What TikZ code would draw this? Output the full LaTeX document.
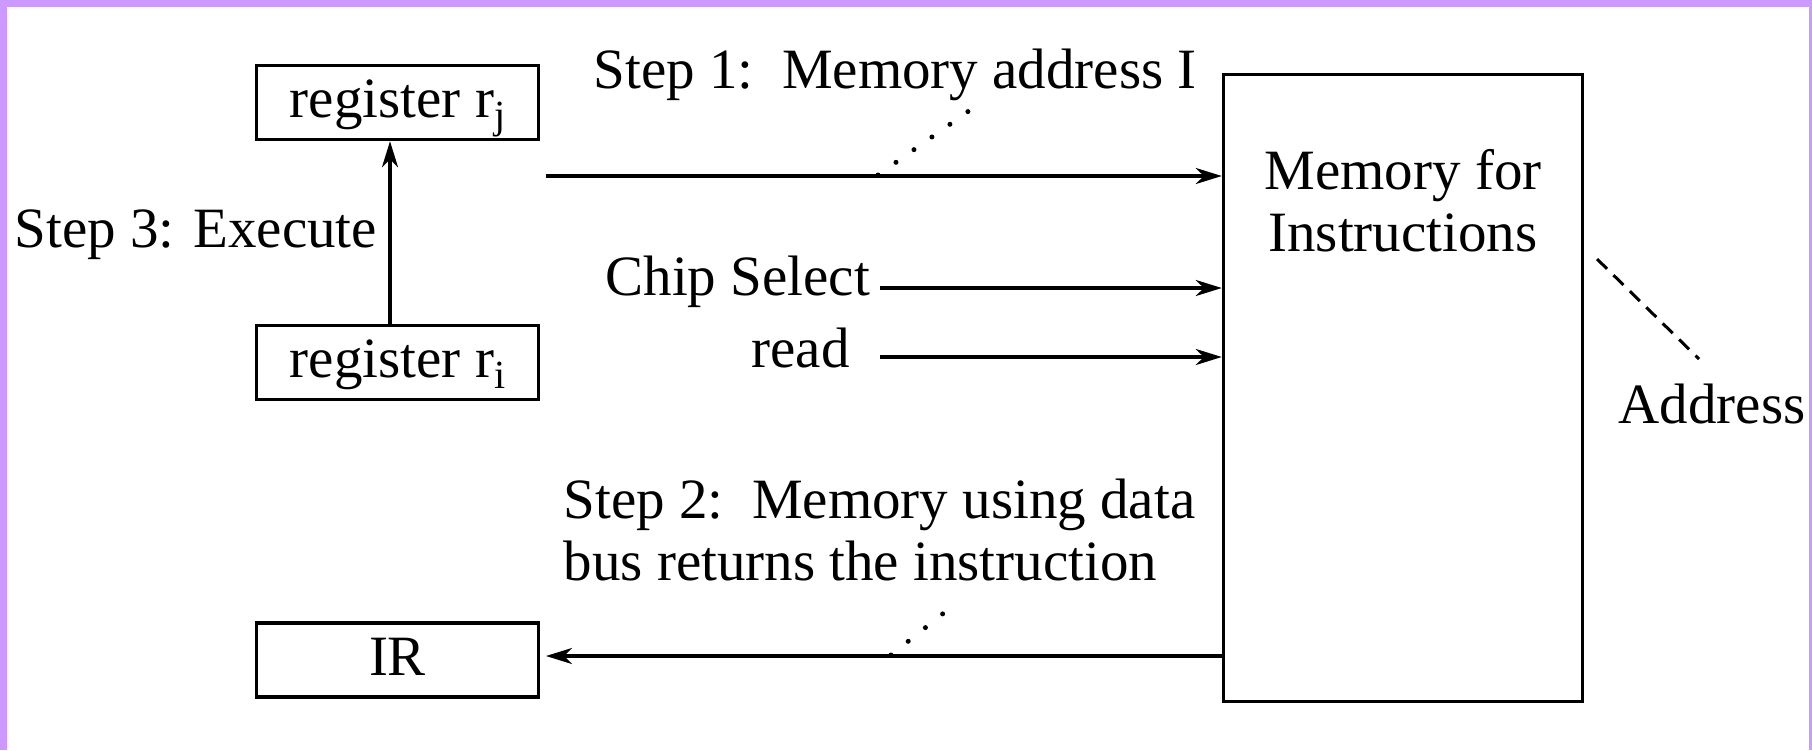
\documentclass[tikz,border=0pt]{standalone}
\usepackage{fontspec}
\setmainfont{Liberation Serif}
\usetikzlibrary{arrows.meta}
\definecolor{framepurple}{RGB}{204,153,255}
\newcommand\figfont{\fontsize{57}{62}\selectfont}
\newcommand\regsub[1]{\raisebox{-11pt}{\fontsize{40}{40}\selectfont #1}}
\begin{document}
\begin{tikzpicture}[x=1pt,y=-1pt,
  line width=3.2pt,
  regbox/.style={draw, line width=3.4pt, minimum width=282pt, minimum height=74pt,
    inner sep=0pt, text height=40pt, text depth=10pt, font=\figfont},
  lbl/.style={inner sep=0pt, font=\figfont},
  arr/.style={-{Stealth[length=26pt,width=16pt,inset=8pt]}, line width=3.2pt},
  dots/.style={line width=5pt, dash pattern=on 0pt off 22pt, line cap=round},
  dashline/.style={line width=3pt, dash pattern=on 14pt off 9pt}
]
\useasboundingbox (0,0) rectangle (1812,750);
\fill[framepurple] (0,0) rectangle (1812,750);
\fill[white] (7,7) rectangle (1809,750);

% boxes
\node[regbox] (rj) at (397.5,102.5) {register r\regsub{j}};
\node[regbox] (ri) at (397.5,362.5) {register r\regsub{i}};
\node[regbox] (ir) at (397.5,660) {IR};
\node[draw, line width=3.4pt, minimum width=359pt, minimum height=627pt, inner sep=0pt] (mem) at (1403,388) {};
\node[lbl, anchor=base, align=center] (memtxt) at (1403,251) {Memory for\\Instructions};

% labels
\node[lbl, anchor=base west] (s3) at (13,247) {Step 3: Execute};
\node[lbl, anchor=base west] (s1) at (592,88) {Step 1:\ \ Memory address I};
\node[lbl, anchor=base west] (cs) at (604,295) {Chip Select};
\node[lbl, anchor=base west] (rd) at (750,367) {read};
\node[lbl, anchor=base west, align=left] (s2) at (562,580) {Step 2:\ \ Memory using data\\bus returns the instruction};
\node[lbl, anchor=base west] (addr) at (1617,423) {Address};

% connector coordinates
\coordinate (a1) at (546,176);
\coordinate (a2) at (880,288);
\coordinate (a3) at (880,357);
\coordinate (busin) at (1222,656);
\coordinate (busend) at (546,656);
\coordinate (d1s) at (878,175);
\coordinate (d1e) at (973,108);
\coordinate (d2s) at (891,655);
\coordinate (d2e) at (945,612);
\coordinate (dashs) at (1597,259);
\coordinate (dashe) at (1699,359);

% connectors
\draw[arr] ([xshift=-7.5pt]ri.north) -- ([xshift=-7.5pt]rj.south);
\draw[arr] (a1) -- (a1 -| mem.west);
\draw[arr] (a2) -- (a2 -| mem.west);
\draw[arr] (a3) -- (a3 -| mem.west);
\draw[arr] (busin -| mem.west) -- (busend);
\draw[dots] (d1s) -- (d1e);
\draw[dots] (d2s) -- (d2e);
\draw[dashline] (dashs) -- (dashe);
\end{tikzpicture}
\end{document}
